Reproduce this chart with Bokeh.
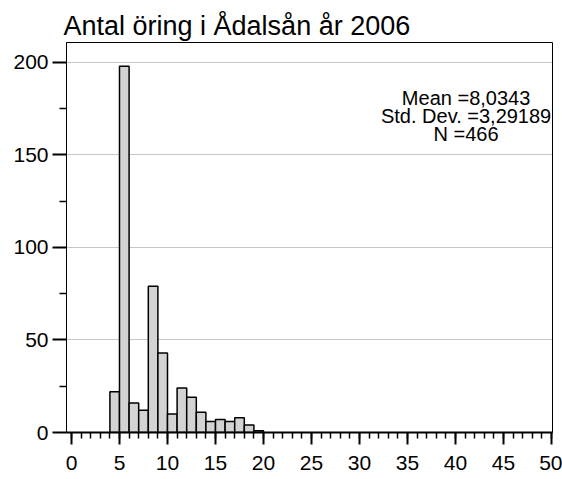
from bokeh.plotting import figure
from bokeh.models import Range1d, FixedTicker, Label, ColumnDataSource
from bokeh.embed import file_html
from bokeh.resources import INLINE

# ---- data ----
bin_left = [4, 5, 6, 7, 8, 9, 10, 11, 12, 13, 14, 15, 16, 17, 18, 19]
bin_width = 1
counts = [22, 198, 16, 12, 79, 43, 10, 24, 19, 11, 6, 7, 6, 8, 4, 1]
title_text = "Antal öring i Ådalsån år 2006"
stats_lines = ["Mean =8,0343", "Std. Dev. =3,29189", "N =466"]
x_major = [0, 5, 10, 15, 20, 25, 30, 35, 40, 45, 50]
x_minor = list(range(0, 51))
y_major = [0, 50, 100, 150, 200]
y_minor = [25, 75, 125, 175]

FONT = "Liberation Sans"

src = ColumnDataSource(dict(
    left=bin_left,
    right=[b + bin_width for b in bin_left],
    top=counts,
))

p = figure(width=562, height=479, output_backend="svg", toolbar_location=None,
           x_range=Range1d(-0.52, 50.1), y_range=Range1d(0, 210.8),
           title=title_text,
           min_border_left=66, min_border_right=10, min_border_top=42, min_border_bottom=47)

p.title.text_font = FONT
p.title.text_font_size = "27px"
p.title.text_font_style = "normal"
p.title.text_color = "black"
p.title.offset = -3
p.title.standoff = 3

p.quad(left="left", right="right", bottom=0, top="top", source=src,
       fill_color="#d3d3d3", line_color="black", line_width=1.5)

p.outline_line_color = "black"
p.outline_line_width = 1
p.background_fill_color = "white"
p.border_fill_color = "white"

p.xgrid.visible = False
p.ygrid.grid_line_color = "#8c8c8c"
p.ygrid.grid_line_dash = "1 1"
p.ygrid.grid_line_width = 1

xa = p.xaxis[0]
xa.ticker = FixedTicker(ticks=x_major, minor_ticks=x_minor)
xa.major_tick_in = 0
xa.major_tick_out = 12
xa.minor_tick_in = 0
xa.minor_tick_out = 6
xa.major_tick_line_width = 2
xa.minor_tick_line_width = 1.5
xa.axis_line_width = 2
xa.major_label_text_font = FONT
xa.major_label_text_font_size = "21px"
xa.major_label_text_color = "black"
xa.major_label_standoff = 11

ya = p.yaxis[0]
ya.ticker = FixedTicker(ticks=y_major, minor_ticks=y_minor)
ya.major_tick_in = 0
ya.major_tick_out = 14
ya.minor_tick_in = 0
ya.minor_tick_out = 7
ya.major_tick_line_width = 2
ya.minor_tick_line_width = 1.5
ya.axis_line_width = 1
ya.major_label_text_font = FONT
ya.major_label_text_font_size = "21px"
ya.major_label_text_color = "black"
ya.major_label_standoff = 4

for i, line in enumerate(stats_lines):
    p.add_layout(Label(x=41.1, y=180.7 - i * 9.6, text=line, text_align="center",
                       text_baseline="middle", text_font=FONT, text_font_size="20px",
                       text_color="black"))

open("out.html", "w").write(file_html(p, INLINE))
